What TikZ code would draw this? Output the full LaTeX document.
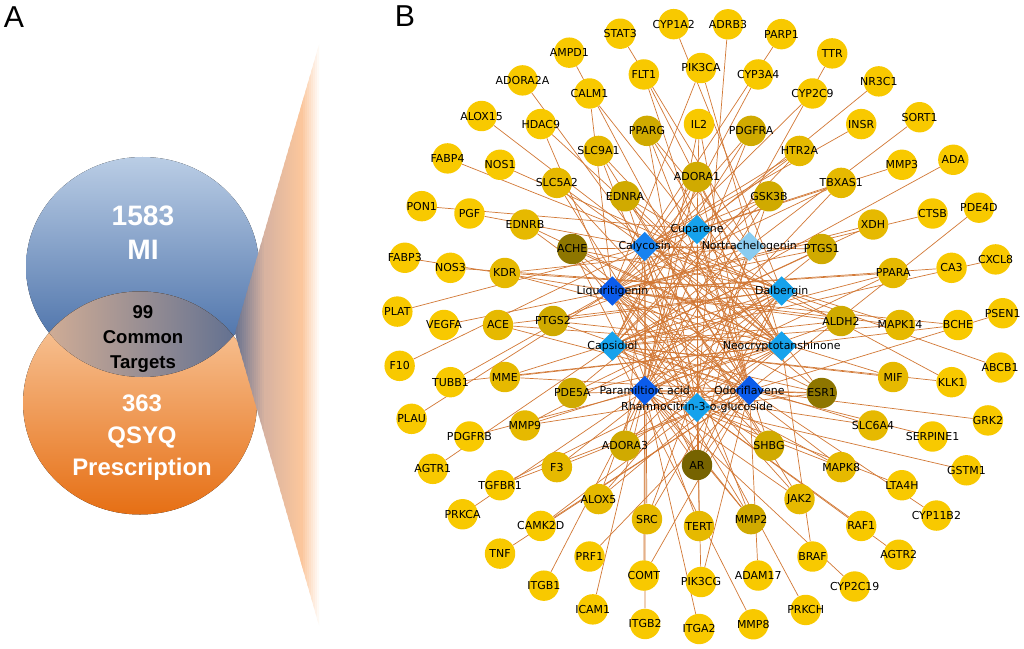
\documentclass[tikz,border=0pt]{standalone}
\usepackage{fontspec}
\setmainfont{DejaVu Sans}
\newfontfamily\arialfont{Liberation Sans}
\usetikzlibrary{shapes.geometric}
\usetikzlibrary{calc}

\definecolor{yelA}{HTML}{F8C900}
\definecolor{yelB}{HTML}{E6B900}
\definecolor{yelC}{HTML}{D0AA00}
\definecolor{olive}{HTML}{8E7600}
\definecolor{dkolive}{HTML}{766300}
\definecolor{bluD}{HTML}{0B5CEB}
\definecolor{bluM}{HTML}{1782F0}
\definecolor{bluL}{HTML}{16A2EC}
\definecolor{bluP}{HTML}{8ACCF0}
\definecolor{linkc}{HTML}{D27835}
\definecolor{miTop}{HTML}{BACDE5}
\definecolor{miBot}{HTML}{3A63A0}
\definecolor{qsTop}{HTML}{FAD0AA}
\definecolor{qsBot}{HTML}{E66F14}
\definecolor{lensL}{HTML}{DEB496}
\definecolor{lensR}{HTML}{566A90}
\definecolor{fslate}{HTML}{66718F}
\definecolor{ftan}{HTML}{D9B3A0}
\definecolor{fpeach}{HTML}{FBC69C}

\pgfdeclarelayer{background}
\pgfsetlayers{background,main}

\newcommand\netfont{\fontsize{7.8}{9}\selectfont}

\begin{document}
\begin{tikzpicture}[x=0.025cm, y=-0.025cm,
    gene/.style={circle, fill=#1, minimum size=0.76cm, inner sep=0pt, font=\netfont},
    gene/.default=yelA,
    drug/.style={diamond, fill=#1, minimum size=0.74cm, inner sep=0pt},
    link/.style={draw=linkc, line width=0.5pt},
    panel/.style={font=\arialfont\fontsize{21.5}{22}\selectfont},
    venn/.style={font=\arialfont\bfseries, align=center}
  ]
  \useasboundingbox (0,0) rectangle (1024,649);

  % panel A: venn
  \node[panel] (labA) at (14,17) {A};
  \fill[top color=miTop, bottom color=miBot] (142.5,267) ellipse (116.5 and 110);
  \fill[top color=qsTop, bottom color=qsBot] (140,403) ellipse (117 and 111.5);
  \begin{scope}
    \clip (142.5,267) ellipse (116.5 and 110);
    \fill[left color=lensL, right color=lensR] (140,403) ellipse (117 and 111.5);
  \end{scope}
  % fan, filled strip by strip
  \begin{scope}
    \clip (235,333) -- (319,45) -- (319,625) -- cycle;
    \foreach \k in {0,...,15}{
      \pgfmathsetmacro\p{100-\k*100/15}
      \fill[fslate!\p!ftan] (234+\k*2,40) rectangle (236.6+\k*2,630);
    }
    \foreach \k in {0,...,17}{
      \pgfmathsetmacro\p{100-\k*100/17}
      \fill[ftan!\p!fpeach] (266+\k*2,40) rectangle (268.6+\k*2,630);
    }
    \foreach \k in {0,...,9}{
      \pgfmathsetmacro\p{100-\k*100/9}
      \fill[fpeach!\p!white] (301+\k*2,40) rectangle (303.6+\k*2,630);
    }
  \end{scope}
  \node[venn, text=white, font=\arialfont\bfseries\fontsize{20}{24}\selectfont] (mi) at (143,233) {1583\\MI};
  \node[venn, text=black, font=\arialfont\bfseries\fontsize{13.2}{18}\selectfont] (common) at (143,339) {99\\Common\\Targets};
  \node[venn, text=white, font=\arialfont\bfseries\fontsize{17}{22.7}\selectfont] (qsyq) at (142,438) {363\\QSYQ\\Prescription};

  % panel B: network
  \node[panel] (labB) at (405,16) {B};
  \coordinate (c1) at (700,326);
  \coordinate (c2) at (701,325);
  \coordinate (c3) at (699,325);
  \coordinate (c4) at (697,321);
  \coordinate (c5) at (697,318.5);

  \foreach \g [count=\i from 0] in {ADRB3,PARP1,TTR,NR3C1,SORT1,ADA,PDE4D,CXCL8,PSEN1,ABCB1,GRK2,GSTM1,CYP11B2,AGTR2,CYP2C19,PRKCH,MMP8,ITGA2,ITGB2,ICAM1,ITGB1,TNF,PRKCA,AGTR1,PLAU,F10,PLAT,FABP3,PON1,FABP4,ALOX15,ADORA2A,AMPD1,STAT3,CYP1A2}{
    \pgfmathsetmacro\ang{-84.7+\i*360/35}
    \node[gene] (\g) at ($(c1)+(\ang:303)$) {\makebox[0pt]{\g}};
  }
  \foreach \g [count=\i from 0] in {PIK3CA,CYP3A4,CYP2C9,INSR,MMP3,CTSB,CA3,BCHE,KLK1,SERPINE1,LTA4H,RAF1,BRAF,ADAM17,PIK3CG,COMT,PRF1,CAMK2D,TGFBR1,PDGFRB,TUBB1,VEGFA,NOS3,PGF,NOS1,HDAC9,CALM1,FLT1}{
    \pgfmathsetmacro\ang{-90+\i*360/28}
    \node[gene] (\g) at ($(c2)+(\ang:257)$) {\makebox[0pt]{\g}};
  }
  \foreach \g/\c [count=\i from 0] in {IL2/yelA,PDGFRA/yelC,HTR2A/yelB,TBXAS1/yelB,XDH/yelB,PPARA/yelB,MAPK14/yelB,MIF/yelB,SLC6A4/yelB,MAPK8/yelB,JAK2/yelB,MMP2/yelC,TERT/yelB,SRC/yelB,ALOX5/yelB,F3/yelB,MMP9/yelB,MME/yelB,ACE/yelB,KDR/yelB,EDNRB/yelB,SLC5A2/yelB,SLC9A1/yelB,PPARG/yelC}{
    \pgfmathsetmacro\ang{-90+\i*15}
    \node[gene=\c] (\g) at ($(c3)+(\ang:201)$) {\makebox[0pt]{\g}};
  }
  \foreach \g/\c [count=\i from 0] in {ADORA1/yelC,GSK3B/yelC,PTGS1/yelC,ALDH2/yelC,ESR1/olive,SHBG/yelC,AR/dkolive,ADORA3/yelC,PDE5A/yelC,PTGS2/yelC,ACHE/olive,EDNRA/yelC}{
    \pgfmathsetmacro\ang{-90+\i*30}
    \node[gene=\c] (\g) at ($(c4)+(\ang:144)$) {\makebox[0pt]{\g}};
  }
  \foreach \d/\t/\c [count=\i from 0] in {cup/Cuparene/bluL,nor/Nortrachelogenin/bluP,dal/Dalbergin/bluL,neo/Neocryptotanshinone/bluL,odo/Odoriflavene/bluD,rha/Rhamnocitrin-3-o-glucoside/bluL,par/Paramiltioic acid/bluD,cap/Capsidiol/bluL,liq/Liquiritigenin/bluD,caly/Calycosin/bluM}{
    \pgfmathsetmacro\ang{-90+\i*36}
    \node[drug=\c] (\d) at ($(c5)+(\ang:89)$) {};
    \node[font=\netfont] (\d-t) at (\d) {\t};
  }

  \begin{pgfonlayer}{background}
    \fill[white] (0,0) rectangle (1024,649);
    \foreach \g in {NR3C1,PON1,CALM1,TERT,ALOX5,ESR1,SHBG,AR,ADORA3,IL2}
      \draw[link] (cup) -- (\g);
    \foreach \g in {SORT1,STAT3,SRC,KDR,PDE5A,PTGS2,ACHE,AR}
      \draw[link] (nor) -- (\g);
    \foreach \g in {ABCB1,FABP4,CYP1A2,KLK1,NOS3,NOS1,SRC,ALOX5,F3,MMP9,MME,ACE,KDR,PPARG,ADORA3,PDE5A,PTGS2,ACHE,EDNRA,AR}
      \draw[link] (dal) -- (\g);
    \foreach \g in {ALOX15,PIK3CA,BCHE,BRAF,TGFBR1,TUBB1,HDAC9,FLT1,ALOX5,MMP9,MME,ACE,KDR,EDNRB,SLC5A2,SLC9A1,PPARG,ADORA1,ADORA3,PDE5A,PTGS2,ACHE,EDNRA}
      \draw[link] (neo) -- (\g);
    \foreach \g in {PDE4D,PSEN1,GRK2,CYP11B2,TNF,AMPD1,SERPINE1,ADAM17,PIK3CG,COMT,PRF1,CAMK2D,TGFBR1,FLT1,IL2,F3,MMP9,MME,ACE,EDNRB,SLC5A2,SLC9A1,PPARG,ADORA1,ESR1,AR,PDE5A,PTGS2,ACHE,EDNRA}
      \draw[link] (odo) -- (\g);
    \foreach \g in {ADRB3,GSTM1,AGTR2,PRKCH,LTA4H,RAF1,PIK3CG,CAMK2D,SLC5A2,SLC9A1,PPARG,GSK3B,ESR1,ACHE,EDNRA}
      \draw[link] (rha) -- (\g);
    \foreach \g in {TTR,CYP2C19,ITGA2,ICAM1,ITGB1,PRKCA,PDGFRB,COMT,IL2,PDGFRA,TBXAS1,PPARA,SLC6A4,MAPK8,JAK2,MMP2,ADORA1,GSK3B,PTGS1,ALDH2,ESR1,AR,ACHE}
      \draw[link] (par) -- (\g);
    \foreach \g in {ADA,CXCL8,AGTR1,MMP8,CYP3A4,KLK1,PDGFRA,HTR2A,XDH,PPARA,MAPK14,MIF,SLC6A4,MAPK8,MMP2,ADORA1,GSK3B,PTGS1,ALDH2,ESR1,SHBG}
      \draw[link] (cap) -- (\g);
    \foreach \g in {PARP1,PLAU,FABP3,PIK3CA,CYP2C9,CTSB,CA3,BCHE,VEGFA,TUBB1,HDAC9,CALM1,PDGFRA,HTR2A,TBXAS1,XDH,PPARA,MAPK14,MIF,MAPK8,JAK2,MMP2,TERT,ADORA1,GSK3B,PTGS1,ALDH2,ESR1,SHBG,AR}
      \draw[link] (liq) -- (\g);
    \foreach \g in {F10,PLAT,ADORA2A,ITGB2,INSR,MMP3,PGF,HTR2A,TBXAS1,MAPK14,JAK2,MMP2,SRC,GSK3B,PTGS1,ALDH2,ESR1,SHBG,AR,ADORA3}
      \draw[link] (caly) -- (\g);
  \end{pgfonlayer}
\end{tikzpicture}
\end{document}
